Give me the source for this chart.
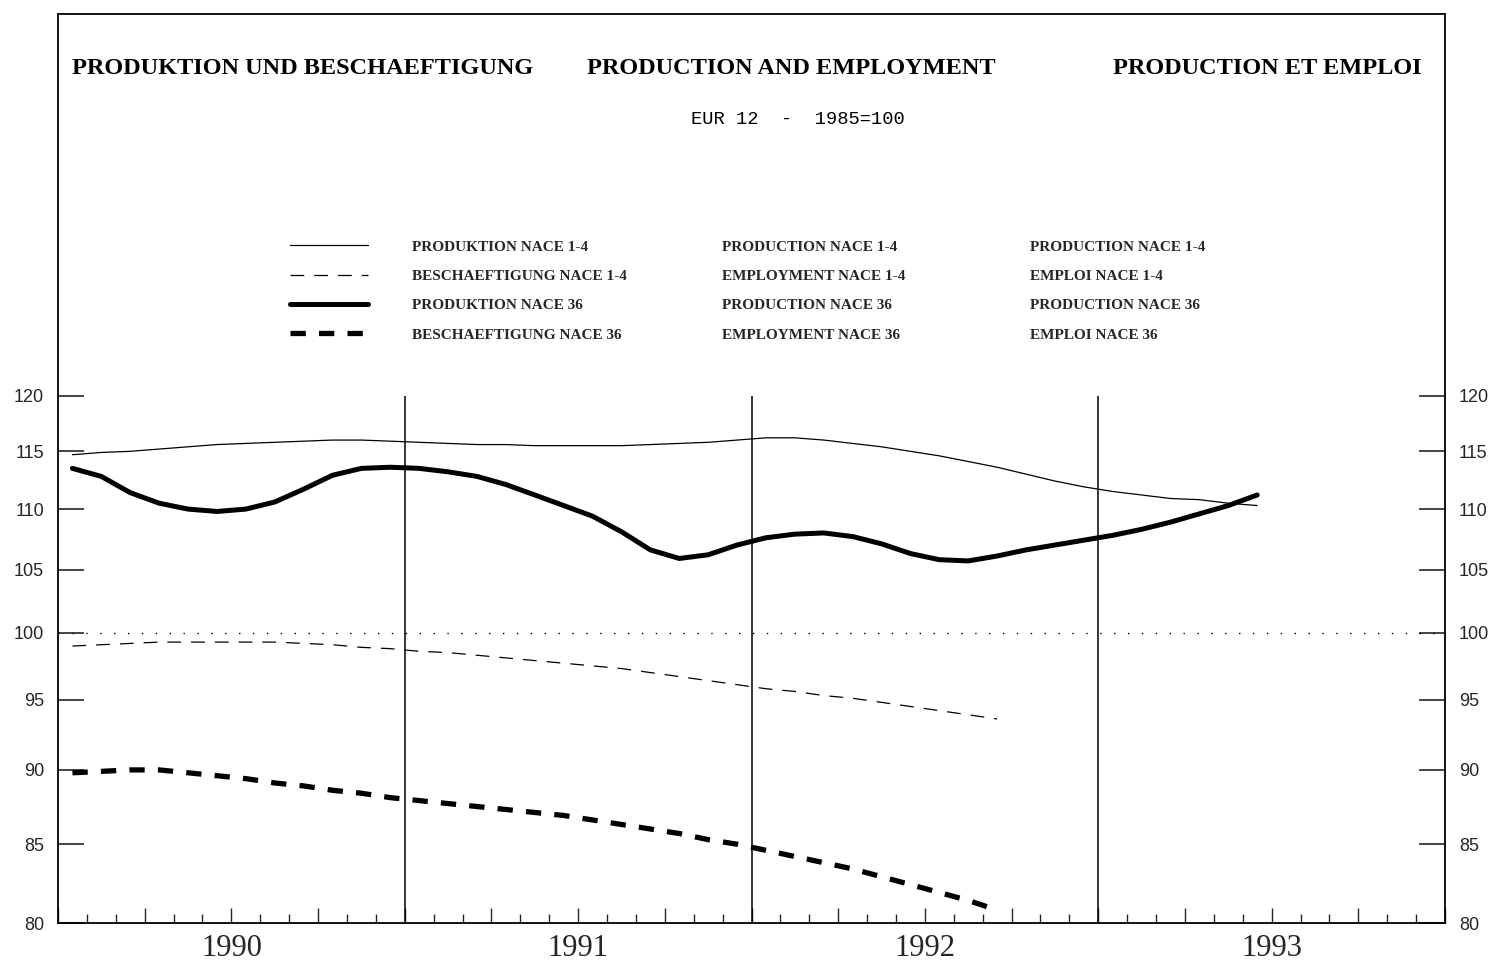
import numpy as np, pandas as pd, matplotlib.pyplot as plt, seaborn as sns
from matplotlib.lines import Line2D
from matplotlib.ticker import FixedLocator, FixedFormatter, NullLocator

sns.set_style('white')

### data: monthly index EUR 12, 1985=100, starting Jan 1990 ###
prod_14 = [114.7, 114.9, 115.0, 115.2, 115.4, 115.6, 115.7, 115.8, 115.9, 116.0, 116.0, 115.9,
           115.8, 115.7, 115.6, 115.6, 115.5, 115.5, 115.5, 115.5, 115.6, 115.7, 115.8, 116.0,
           116.2, 116.2, 116.0, 115.7, 115.4, 115.0, 114.6, 114.1, 113.6, 113.0, 112.4, 111.9,
           111.5, 111.2, 110.9, 110.8, 110.5, 110.3]
prod_36 = [113.5, 112.8, 111.4, 110.5, 110.0, 109.8, 110.0, 110.6, 111.7, 112.9, 113.5, 113.6,
           113.5, 113.2, 112.8, 112.1, 111.2, 110.3, 109.4, 108.1, 106.6, 105.9, 106.2, 107.0,
           107.6, 107.9, 108.0, 107.7, 107.1, 106.3, 105.8, 105.7, 106.1, 106.6, 107.0, 107.4,
           107.8, 108.3, 108.9, 109.6, 110.3, 111.2]
emp_14 = [99.0, 99.1, 99.2, 99.3, 99.3, 99.3, 99.3, 99.3, 99.2, 99.1, 98.9, 98.8,
          98.6, 98.5, 98.3, 98.1, 97.9, 97.7, 97.5, 97.3, 97.0, 96.7, 96.4, 96.1,
          95.8, 95.6, 95.3, 95.1, 94.8, 94.5, 94.2, 93.9, 93.6]
emp_36 = [89.8, 89.9, 90.0, 90.0, 89.8, 89.6, 89.4, 89.1, 88.9, 88.6, 88.4, 88.1,
          87.9, 87.7, 87.5, 87.3, 87.1, 86.9, 86.6, 86.3, 86.0, 85.7, 85.3, 85.0,
          84.6, 84.2, 83.8, 83.4, 82.9, 82.4, 81.9, 81.4, 80.8]

years = [1990, 1991, 1992, 1993]
y_ticks = [80, 85, 90, 95, 100, 105, 110, 115, 120]

titles = ['PRODUKTION UND BESCHAEFTIGUNG', 'PRODUCTION AND EMPLOYMENT', 'PRODUCTION ET EMPLOI']
subtitle = 'EUR 12  -  1985=100'
labels_de = ['PRODUKTION NACE 1-4', 'BESCHAEFTIGUNG NACE 1-4', 'PRODUKTION NACE 36', 'BESCHAEFTIGUNG NACE 36']
labels_en = ['PRODUCTION NACE 1-4', 'EMPLOYMENT NACE 1-4', 'PRODUCTION NACE 36', 'EMPLOYMENT NACE 36']
labels_fr = ['PRODUCTION NACE 1-4', 'EMPLOI NACE 1-4', 'PRODUCTION NACE 36', 'EMPLOI NACE 36']

# month mid-points as decimal years
def month_pos(n):
    return years[0] + (np.arange(n) + 0.5) / 12

df_prod = pd.DataFrame({'t': month_pos(len(prod_14)), 'p14': prod_14, 'p36': prod_36})
df_emp = pd.DataFrame({'t': month_pos(len(emp_14)), 'e14': emp_14, 'e36': emp_36})

### figure ###
W, H = 1501, 961
fig = plt.figure(figsize=(W / 100, H / 100), dpi=100, facecolor='white')
ax = fig.add_axes([58 / W, 38 / H, 1387 / W, 909 / H])
ax.set_facecolor('white')

styles = [dict(lw=0.9, ls='-'), dict(lw=0.9, ls=(0, (11, 8))),
          dict(lw=3.6, ls='-'), dict(lw=3.8, ls=(0, (2.9, 2.5)))]

sns.lineplot(data=df_prod, x='t', y='p14', ax=ax, color='black', linewidth=styles[0]['lw'], linestyle=styles[0]['ls'])
sns.lineplot(data=df_emp, x='t', y='e14', ax=ax, color='black', linewidth=styles[1]['lw'], linestyle=styles[1]['ls'])
sns.lineplot(data=df_prod, x='t', y='p36', ax=ax, color='black', linewidth=styles[2]['lw'], linestyle=styles[2]['ls'])
sns.lineplot(data=df_emp, x='t', y='e36', ax=ax, color='black', linewidth=styles[3]['lw'], linestyle=styles[3]['ls'])

# log scale, 80..120 occupies the lower part of the frame
ax.set_yscale('log')
y_top = 80 * (120 / 80) ** (909 / 527)
ax.set_ylim(80, y_top)
ax.set_xlim(years[0], years[-1] + 1)

# year boundaries and 100 base line
ax.vlines(years[1:], 80, 120, color='black', lw=1.1)
ax.hlines(100, years[0], years[-1] + 1, color='black', lw=1.0, linestyles=(0, (1, 9)))

# y ticks on both sides
ax.yaxis.set_major_locator(FixedLocator(y_ticks))
ax.yaxis.set_major_formatter(FixedFormatter([str(v) for v in y_ticks]))
ax.yaxis.set_minor_locator(NullLocator())
ax.tick_params(axis='y', which='major', left=True, right=True, labelleft=True, labelright=True,
               direction='in', length=19, width=1.2, pad=10, labelsize=13)
for lab in ax.get_yticklabels():
    lab.set_fontfamily('Liberation Sans')

# x ticks: quarters (long) and months (short), year names mid-year
quarters = np.arange(years[0], years[-1] + 1.001, 0.25)
qlabels = [str(int(q)) if abs(q % 1 - 0.5) < 1e-6 else '' for q in quarters]
ax.xaxis.set_major_locator(FixedLocator(quarters))
ax.xaxis.set_major_formatter(FixedFormatter(qlabels))
ax.xaxis.set_minor_locator(FixedLocator(np.arange(years[0], years[-1] + 1.001, 1 / 12)))
ax.tick_params(axis='x', which='major', bottom=True, direction='in', length=11, width=1.0, pad=8, labelsize=22)
ax.tick_params(axis='x', which='minor', bottom=True, direction='in', length=6.5, width=1.0)
for lab in ax.get_xticklabels():
    lab.set_fontfamily('Liberation Serif')
ax.set_xlabel('')
ax.set_ylabel('')

for s in ax.spines.values():
    s.set_visible(True)
    s.set_color('black')
    s.set_linewidth(1.3)

### titles ###
tfont = dict(family='Liberation Serif', weight='bold', size=17.5, color='black')
fig.text(72 / W, 1 - 68 / H, titles[0], ha='left', va='center', **tfont)
fig.text(587 / W, 1 - 68 / H, titles[1], ha='left', va='center', **tfont)
fig.text(1422 / W, 1 - 68 / H, titles[2], ha='right', va='center', **tfont)
fig.text(798 / W, 1 - 120 / H, subtitle, ha='center', va='center',
         family='Liberation Mono', size=13.5, color='black')

### legend: three language columns ###
lfont = dict(family='Liberation Serif', weight='bold', size=11)
handles = [Line2D([], [], color='black', linewidth=s['lw'], linestyle=s['ls']) for s in styles]
blank = [Line2D([], [], linestyle='none') for _ in styles]
leg_kw = dict(loc='upper left', frameon=False, prop=lfont, borderpad=0, borderaxespad=0,
              labelspacing=1.02, bbox_transform=fig.transFigure)
top = 1 - 240 / H
leg1 = ax.legend(handles, labels_de, bbox_to_anchor=(290 / W, top), handlelength=5.1,
                 handletextpad=2.9, **leg_kw)
ax.add_artist(leg1)
leg2 = ax.legend(blank, labels_en, bbox_to_anchor=(722 / W, top), handlelength=0,
                 handletextpad=0, **leg_kw)
ax.add_artist(leg2)
ax.legend(blank, labels_fr, bbox_to_anchor=(1030 / W, top), handlelength=0,
          handletextpad=0, **leg_kw)

plt.savefig('out.png', dpi=100, facecolor='white')
